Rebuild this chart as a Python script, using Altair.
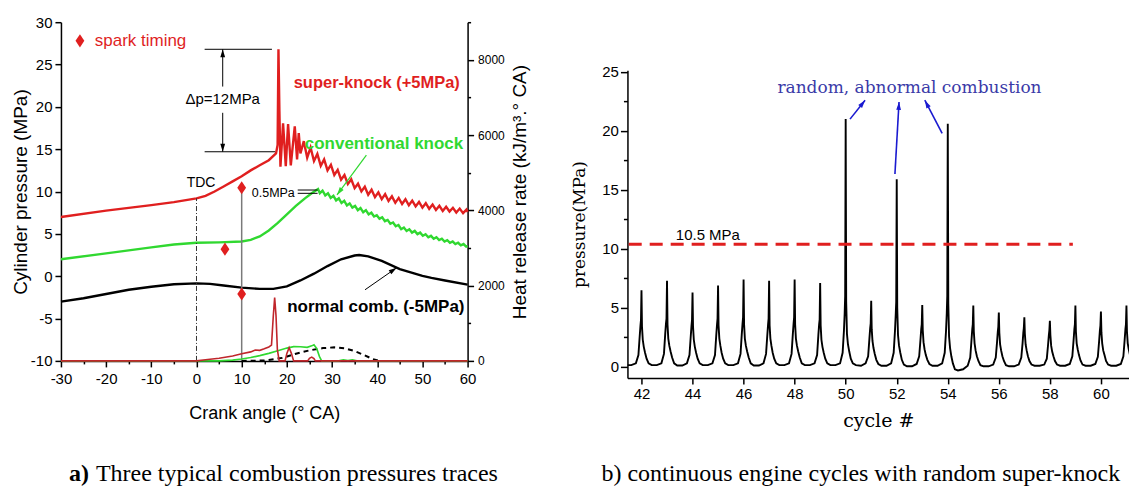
import altair as alt
import pandas as pd

# ================= Panel (a): three typical combustion pressure traces =================
# super-knock cylinder pressure (+5 MPa offset)
sk_ca = [-30, -20, -10, -5, 0, 2, 4, 6, 8, 10, 12, 14, 16, 17.6, 17.95, 18.14, 18.35, 18.58,
         19.16, 19.76, 20.27, 20.87, 21.75, 22.26, 22.63,
         23.0, 23.75, 24.5, 25.25, 26.0, 26.75, 27.5, 28.25, 29.0, 29.75, 30.5, 31.25, 32.0,
         32.75, 33.5, 34.25, 35.0, 35.75, 36.5, 37.25, 38.0, 38.75, 39.5, 40.25, 41.0, 41.75,
         42.5, 43.25, 44.0, 44.75, 45.5, 46.25, 47.0, 47.75, 48.5, 49.25, 50.0, 50.75, 51.5,
         52.25, 53.0, 53.75, 54.5, 55.25, 56.0, 56.75, 57.5, 58.25, 59.0, 59.75, 60.0]
sk_p = [7.0, 7.75, 8.4, 8.75, 9.2, 9.5, 10.0, 10.6, 11.2, 11.8, 12.5, 13.1, 13.7, 14.5, 15.5, 26.8, 19.5, 12.93,
        18.05, 13.0, 17.96, 13.1, 17.7, 13.8, 16.9,
        14.5, 15.95, 14.0, 15.2, 13.6, 14.45, 13.05, 13.8, 12.5, 13.15, 11.95, 12.55, 11.4,
        11.95, 10.9, 11.45, 10.4, 10.93, 10.02, 10.57, 9.63, 10.21, 9.34, 9.9, 9.1, 9.69,
        8.88, 9.43, 8.67, 9.25, 8.53, 9.09, 8.38, 8.93, 8.24, 8.77, 8.1, 8.62, 7.96,
        8.46, 7.82, 8.31, 7.7, 8.21, 7.64, 8.08, 7.53, 7.99, 7.45, 7.87, 7.6]

# conventional knock cylinder pressure
ck_ca = [-30, -20, -10, -5, 0, 5, 10, 12, 14, 16, 18, 20, 22, 24, 25.5, 26.9,
         27.3, 27.9, 28.5, 29.1, 29.7, 30.3, 30.9, 31.5, 32.1, 32.7,
         33.3, 33.9, 34.5, 35.1, 35.7, 36.3, 36.9, 37.5, 38.1, 38.7,
         39.3, 39.9, 40.5, 41.1, 41.7, 42.3, 42.9, 43.5, 44.1, 44.7,
         45.3, 45.9, 46.5, 47.1, 47.7, 48.3, 48.9, 49.5, 50.1, 50.7,
         51.3, 51.9, 52.5, 53.1, 53.7, 54.3, 54.9, 55.5, 56.1, 56.7,
         57.3, 57.9, 58.5, 59.1, 59.7, 60.0]
ck_p = [2.0, 2.7, 3.4, 3.75, 3.95, 4.0, 4.1, 4.3, 4.7, 5.4, 6.3, 7.3, 8.3, 9.2, 9.8, 10.3,
        9.8, 10.1, 9.55, 9.8, 9.25, 9.5, 8.95, 9.2, 8.65, 8.9,
        8.35, 8.6, 8.1, 8.3, 7.8, 8.05, 7.55, 7.8, 7.3, 7.5,
        7.05, 7.2, 6.8, 6.95, 6.5, 6.65, 6.2, 6.35, 5.9, 6.05,
        5.55, 5.75, 5.35, 5.55, 5.15, 5.35, 4.97, 5.15, 4.78, 4.95,
        4.6, 4.77, 4.43, 4.6, 4.27, 4.43, 4.1, 4.26, 3.95, 4.1,
        3.8, 3.95, 3.65, 3.8, 3.5, 3.55]

# normal combustion cylinder pressure (-5 MPa offset)
nc_ca = [-30, -25, -20, -15, -10, -5, 0, 3, 6, 10, 14, 17, 20, 23, 26, 29, 32, 35, 36, 38, 41, 45, 50, 52, 55, 60]
nc_p = [-3.0, -2.6, -2.1, -1.6, -1.25, -0.95, -0.85, -0.9, -1.1, -1.35, -1.5, -1.5, -1.2, -0.5, 0.3,
        1.2, 2.0, 2.45, 2.5, 2.35, 1.8, 0.85, 0.05, -0.2, -0.5, -1.0]

# heat release rates (right axis)
hr_sk_ca = [-30, 0, 2, 5, 8, 10, 12, 13, 14, 15, 16, 16.6, 17.0, 17.3, 17.6, 17.9, 18.3, 19.6,
            20.0, 20.5, 21.0, 21.5, 24.6, 25.0, 25.5, 26.0, 26.3, 60]
hr_sk = [0, 0, 30, 70, 130, 190, 240, 290, 280, 320, 370, 420, 1200, 1680, 1200, 300, 0, 0,
         200, 350, 200, 0, 0, 70, 100, 60, 0, 0]
hr_ck_ca = [-30, 5, 8, 10, 12, 14, 16, 18, 20, 21.5, 23, 24.5, 25.5, 26.0, 26.6, 27.2, 27.7,
            31.5, 32.5, 33.5, 34.5, 35.5, 36.5, 60]
hr_ck = [0, 0, 20, 50, 90, 140, 200, 270, 340, 380, 375, 360, 400, 430, 330, 120, 0,
         0, 30, 10, 30, 0, 0, 0]
hr_nc_ca = [10, 15, 19, 22, 25, 28, 30.5, 33, 35, 37, 39, 40.5, 60]
hr_nc = [0, 10, 80, 190, 280, 340, 360, 330, 260, 160, 50, 0, 0]

# spark timing markers (last one is the legend symbol)
spark_ca = [10, 6.3, 10, -25.8]
spark_p = [10.45, 3.2, -2.1, 27.8]

# text annotations
note_text = ["spark timing", "TDC", "Δp=12MPa", "0.5MPa",
             "super-knock (+5MPa)", "conventional knock", "normal comb. (-5MPa)"]
note_ca = [-22.5, 1.0, 5.8, 17.0, 39.9, 41.5, 39.7]
note_p = [27.8, 11.0, 20.9, 9.8, 22.8, 15.6, -3.6]

# thin black guide segments: delta-p bars, delta-p arrow shaft, 0.5 MPa marks, normal-comb arrow
seg_ca = [1.8, 1.8, 5.8, 5.8, 22.4, 22.4, 37.3]
seg_ca2 = [16.7, 17.4, 5.8, 5.8, 26.8, 26.8, 44.3]
seg_p = [26.8, 14.7, 26.8, 19.3, 10.18, 9.79, -1.6]
seg_p2 = [26.8, 14.7, 22.4, 14.7, 10.18, 9.79, 1.0]
# green arrow for "conventional knock"
garr_ca, garr_ca2, garr_p, garr_p2 = [37.6], [31.1], [14.3], [9.6]
# TDC line and spark-timing line
tdc_ca, tdc_p, tdc_p2 = [0], [-10], [9.2]
st_ca, st_p, st_p2 = [10], [-10], [10.45]
# arrow heads
head_ca = [5.8, 5.8, 31.1, 44.3]
head_p = [26.8, 14.7, 9.6, 1.0]
head_ang = [0, 180, 216, 56]
head_kind = ["k", "k", "g", "k"]

caption_a_bold = "a)"
caption_a = "Three typical combustion pressures traces"

# ================= Panel (b): continuous engine cycles =================
cycles = list(range(42, 62))
shape_offsets = [-0.4, -0.22, -0.12, -0.07, -0.04, -0.02, 0.0, 0.02, 0.05, 0.09, 0.14, 0.2, 0.28, 0.4]
cycle_pressures = [
    [0.15, 0.3, 1.0, 2.6, 3.5, 4.0, 6.5, 3.4, 2.3, 1.7, 1.2, 0.7, 0.3, 0.15],    # 42
    [0.15, 0.3, 1.1, 2.8, 3.7, 4.1, 7.3, 3.6, 2.4, 1.8, 1.3, 0.8, 0.3, 0.12],    # 43
    [0.12, 0.3, 1.0, 2.6, 3.5, 4.0, 6.3, 3.4, 2.3, 1.7, 1.2, 0.7, 0.3, 0.15],    # 44
    [0.15, 0.3, 1.0, 2.7, 3.6, 4.1, 6.9, 3.5, 2.4, 1.8, 1.2, 0.7, 0.3, 0.15],    # 45
    [0.15, 0.3, 1.1, 2.8, 3.7, 4.2, 7.4, 3.6, 2.4, 1.8, 1.3, 0.8, 0.3, 0.12],    # 46
    [0.12, 0.3, 1.1, 2.7, 3.6, 4.1, 7.3, 3.5, 2.4, 1.8, 1.2, 0.7, 0.3, 0.15],    # 47
    [0.15, 0.3, 1.1, 2.8, 3.7, 4.2, 7.4, 3.6, 2.4, 1.8, 1.3, 0.8, 0.3, 0.15],    # 48
    [0.15, 0.3, 1.0, 2.7, 3.6, 4.0, 7.1, 3.5, 2.3, 1.7, 1.2, 0.7, 0.3, 0.15],    # 49
    [0.15, 0.3, 1.2, 3.0, 4.5, 6.0, 21.0, 5.5, 2.8, 1.9, 1.3, 0.7, 0.3, 0.15],   # 50
    [0.1, 0.3, 0.9, 2.4, 3.3, 3.7, 5.6, 3.2, 2.2, 1.6, 1.1, 0.6, 0.25, 0.1],     # 51
    [0.1, 0.3, 1.2, 3.0, 4.4, 5.5, 15.9, 5.0, 2.7, 1.8, 1.2, 0.6, 0.2, 0.05],    # 52
    [0.05, 0.25, 0.9, 2.3, 3.2, 3.6, 5.25, 3.1, 2.1, 1.5, 1.0, 0.6, 0.25, 0.1],  # 53
    [0.1, 0.3, 1.2, 3.0, 4.5, 6.0, 20.6, 5.4, 2.6, 1.6, 0.9, 0.3, -0.2, -0.3],   # 54
    [-0.2, 0.1, 0.8, 2.3, 3.2, 3.6, 5.2, 3.0, 2.0, 1.4, 0.9, 0.5, 0.15, 0.05],   # 55
    [0.05, 0.2, 0.8, 2.1, 3.0, 3.4, 4.6, 2.9, 1.9, 1.4, 0.9, 0.5, 0.15, 0.05],   # 56
    [0.05, 0.2, 0.8, 2.0, 2.9, 3.3, 4.2, 2.8, 1.9, 1.4, 0.9, 0.5, 0.2, 0.1],     # 57
    [0.1, 0.2, 0.7, 1.9, 2.7, 3.1, 3.9, 2.7, 1.8, 1.3, 0.9, 0.5, 0.2, 0.1],      # 58
    [0.1, 0.25, 0.9, 2.3, 3.2, 3.6, 5.2, 3.0, 2.0, 1.5, 1.0, 0.55, 0.2, 0.1],    # 59
    [0.1, 0.25, 0.85, 2.2, 3.1, 3.5, 4.7, 2.9, 2.0, 1.4, 1.0, 0.5, 0.2, 0.1],    # 60
    [0.1, 0.25, 0.9, 2.3, 3.2, 3.6, 5.2, 3.0, 2.0, 1.5, 1.0, 0.55, 0.2, 0.1],    # 61
]
lead_cycle, lead_p = 41.45, 0.15

thr_x, thr_x2, thr_p = [41.5], [58.9], [10.4]
thr_label, thr_label_x, thr_label_p = "10.5 MPa", 44.6, 11.2
abn_label, abn_x, abn_p = "random,  abnormal combustion", 52.5, 23.6
barr_x = [50.17, 51.93, 53.78]
barr_p = [21.0, 16.35, 19.8]
barr_x2 = [50.76, 52.09, 53.1]
barr_p2 = [22.6, 22.45, 22.6]
barr_ang = [38, 3, 332]

caption_b = "b) continuous engine cycles with random super-knock"

# ================= styling =================
RED = "#e01f1f"
RED_DARK = "#c0262b"
GREEN = "#30d830"
BLUE_T = "#3a3aa8"
BLUE_A = "#1a1ad0"
SANS = "Liberation Sans"
SERIF = "Liberation Serif"
SERIF2 = "DejaVu Serif"
HEAD = "M0,0L-0.6,2L0.6,2Z"
DIAMOND = "M0,-1.2L0.8,0L0,1.2L-0.8,0Z"
HYPHEN = "replace(datum.label, '\u2212', '-')"


def cond(test, a, b):
    return {"condition": {"test": test, "value": a}, "value": b}


X_L = alt.Scale(domain=[-30, 60], nice=False, zero=False)
Y_P = alt.Scale(domain=[-10, 30], nice=False, zero=False)
Y_H = alt.Scale(domain=[0, 9000], nice=False, zero=False)

ax_x_left = alt.Axis(title="Crank angle (°  CA)", values=list(range(-30, 61, 5)),
                     labelExpr="datum.value % 10 === 0 ? " + HYPHEN + " : ''",
                     tickSize=cond("datum.value % 10 === 0", 6, 3), labelFlush=False,
                     labelFontSize=15, labelPadding=5, titleFontSize=18, titlePadding=18)
ax_y_left = alt.Axis(title="Cylinder pressure (MPa)", values=list(range(-10, 31, 5)),
                     labelExpr=HYPHEN, tickSize=6, labelFontSize=15, labelPadding=3,
                     titleFontSize=19, titlePadding=0)
ax_y_right = alt.Axis(title="Heat release rate (kJ/m³.° CA)", orient="right",
                      values=list(range(0, 9001, 1000)), format="d",
                      labelExpr="datum.value % 2000 === 0 ? datum.label : ''",
                      tickSize=cond("datum.value % 2000 === 0", 6, 3),
                      labelFontSize=12, labelPadding=4, titleFontSize=19,
                      titleAngle=270, titleBaseline="top", titlePadding=6)


def XL(f="x"):
    return alt.X(f + ":Q", scale=X_L, axis=ax_x_left)


def YP(f="y"):
    return alt.Y(f + ":Q", scale=Y_P, axis=ax_y_left)


def YH(f="y"):
    return alt.Y(f + ":Q", scale=Y_H, axis=ax_y_right)


df_sk = pd.DataFrame({"x": sk_ca, "y": sk_p})
df_ck = pd.DataFrame({"x": ck_ca, "y": ck_p})
df_nc = pd.DataFrame({"x": nc_ca, "y": nc_p})

l_sk = alt.Chart(df_sk).mark_line(color=RED, strokeWidth=2.4).encode(x=XL(), y=YP())
l_ck = alt.Chart(df_ck).mark_line(color=GREEN, strokeWidth=2.4).encode(x=XL(), y=YP())
l_nc = alt.Chart(df_nc).mark_line(color="black", strokeWidth=2.4).encode(x=XL(), y=YP())

r_tdc = alt.Chart(pd.DataFrame({"x": tdc_ca, "y": tdc_p, "y2": tdc_p2})).mark_rule(
    color="#333333", strokeWidth=1, strokeDash=[5, 2, 1, 2]).encode(x=XL(), y=YP(), y2="y2:Q")
r_st = alt.Chart(pd.DataFrame({"x": st_ca, "y": st_p, "y2": st_p2})).mark_rule(
    color="#7a7a7a", strokeWidth=1.5).encode(x=XL(), y=YP(), y2="y2:Q")
r_seg = alt.Chart(pd.DataFrame({"x": seg_ca, "x2": seg_ca2, "y": seg_p, "y2": seg_p2})).mark_rule(
    color="black", strokeWidth=1).encode(x=XL(), x2="x2:Q", y=YP(), y2="y2:Q")
r_garr = alt.Chart(pd.DataFrame({"x": garr_ca, "x2": garr_ca2, "y": garr_p, "y2": garr_p2})).mark_rule(
    color=GREEN, strokeWidth=1.2).encode(x=XL(), x2="x2:Q", y=YP(), y2="y2:Q")

df_head = pd.DataFrame({"x": head_ca, "y": head_p, "a": head_ang,
                        "c": [GREEN if k == "g" else "black" for k in head_kind]})
p_head = alt.Chart(df_head).mark_point(shape=HEAD, filled=True, opacity=1, size=64, strokeWidth=0).encode(
    x=XL(), y=YP(), angle=alt.Angle("a:Q", scale=None), color=alt.Color("c:N", scale=None))

p_spark = alt.Chart(pd.DataFrame({"x": spark_ca, "y": spark_p})).mark_point(
    shape=DIAMOND, filled=True, opacity=1, size=121, color=RED, strokeWidth=0).encode(x=XL(), y=YP())

df_note = pd.DataFrame({"x": note_ca, "y": note_p, "t": note_text})


def note(i, **kw):
    return alt.Chart(df_note.iloc[[i]]).mark_text(baseline="middle", **kw).encode(
        x=XL(), y=YP(), text="t:N")


t_spark = note(0, align="left", font=SANS, fontSize=17, color=RED)
t_tdc = note(1, align="center", font=SANS, fontSize=14, color="black")
t_dp = note(2, align="center", font=SANS, fontSize=15, color="black")
t_05 = note(3, align="center", font=SANS, fontSize=12.5, color="black")
t_sk = note(4, align="center", font=SANS, fontSize=16.5, fontWeight="bold", color=RED)
t_ck = note(5, align="center", font=SANS, fontSize=17, fontWeight="bold", color=GREEN)
t_nc = note(6, align="center", font=SANS, fontSize=17, fontWeight="bold", color="black")

cap_a1 = alt.Chart(pd.DataFrame({"t": [caption_a_bold]})).mark_text(
    align="left", baseline="alphabetic", font=SERIF, fontSize=24, fontWeight="bold", color="black").encode(
    text="t:N", x=alt.value(8), y=alt.value(459))
cap_a2 = alt.Chart(pd.DataFrame({"t": [caption_a]})).mark_text(
    align="left", baseline="alphabetic", font=SERIF, fontSize=24, color="black").encode(
    text="t:N", x=alt.value(35), y=alt.value(459))

h_sk = alt.Chart(pd.DataFrame({"x": hr_sk_ca, "y": hr_sk})).mark_line(
    color=RED_DARK, strokeWidth=1.6).encode(x=XL(), y=YH())
h_ck = alt.Chart(pd.DataFrame({"x": hr_ck_ca, "y": hr_ck})).mark_line(
    color=GREEN, strokeWidth=1.6).encode(x=XL(), y=YH())
h_nc = alt.Chart(pd.DataFrame({"x": hr_nc_ca, "y": hr_nc})).mark_line(
    color="black", strokeWidth=2, strokeDash=[5, 4]).encode(x=XL(), y=YH())

press = alt.layer(l_nc, l_ck, l_sk, r_tdc, r_st, r_seg, r_garr, p_head, p_spark,
                  t_spark, t_tdc, t_dp, t_05, t_sk, t_ck, t_nc, cap_a1, cap_a2)
hrr = alt.layer(h_nc, h_ck, h_sk)
left = alt.layer(press, hrr).resolve_scale(y="independent").properties(width=407, height=339)

# ---------- panel b ----------
X_R = alt.Scale(domain=[41.45, 61.1], nice=False, zero=False)
Y_R = alt.Scale(domain=[-0.93, 25.15], nice=False, zero=False)

ax_x_r = alt.Axis(title="cycle #", values=list(range(42, 61, 2)), tickSize=6,
                  labelFontSize=15, labelPadding=3, titleFont=SERIF2, titleFontSize=19, titlePadding=10)
ax_y_r = alt.Axis(title="pressure(MPa)", values=[0, 2.5, 5, 7.5, 10, 12.5, 15, 17.5, 20, 22.5, 25],
                  labelExpr="datum.value % 5 === 0 ? datum.label : ''",
                  tickSize=cond("datum.value % 5 === 0", 7, 4),
                  labelFontSize=15, labelPadding=2, titleFont=SERIF2, titleFontSize=17, titlePadding=13)


def XR(f="x"):
    return alt.X(f + ":Q", scale=X_R, axis=ax_x_r)


def YR(f="y"):
    return alt.Y(f + ":Q", scale=Y_R, axis=ax_y_r)


trace_x = [lead_cycle] + [c + o for c, vals in zip(cycles, cycle_pressures) for o in shape_offsets]
trace_p = [lead_p] + [v for vals in cycle_pressures for v in vals]
df_trace = pd.DataFrame({"x": trace_x, "y": trace_p})

l_trace = alt.Chart(df_trace).mark_line(color="black", strokeWidth=1.9, clip=True).encode(
    x=XR(), y=YR())
r_thr = alt.Chart(pd.DataFrame({"x": thr_x, "x2": thr_x2, "y": thr_p})).mark_rule(
    color=RED, strokeWidth=3, strokeDash=[13, 8]).encode(x=XR(), x2="x2:Q", y=YR())
t_thr = alt.Chart(pd.DataFrame({"x": [thr_label_x], "y": [thr_label_p], "t": [thr_label]})).mark_text(
    font=SANS, fontSize=15, color="black", align="center", baseline="middle").encode(x=XR(), y=YR(), text="t:N")
t_abn = alt.Chart(pd.DataFrame({"x": [abn_x], "y": [abn_p], "t": [abn_label]})).mark_text(
    font=SERIF2, fontSize=17, color=BLUE_T, align="center", baseline="middle").encode(x=XR(), y=YR(), text="t:N")
df_barr = pd.DataFrame({"x": barr_x, "x2": barr_x2, "y": barr_p, "y2": barr_p2, "a": barr_ang})
r_barr = alt.Chart(df_barr).mark_rule(color=BLUE_A, strokeWidth=1.6).encode(
    x=XR(), x2="x2:Q", y=YR(), y2="y2:Q")
p_barr = alt.Chart(df_barr).mark_point(shape=HEAD, filled=True, opacity=1, size=64, strokeWidth=0,
                                       color=BLUE_A).encode(
    x=XR("x2"), y=YR("y2"), angle=alt.Angle("a:Q", scale=None))
cap_b = alt.Chart(pd.DataFrame({"t": [caption_b]})).mark_text(
    align="left", baseline="alphabetic", font=SERIF, fontSize=24, color="black").encode(
    text="t:N", x=alt.value(-26), y=alt.value(411))

right = alt.layer(l_trace, r_thr, t_thr, t_abn, r_barr, p_barr, cap_b).properties(width=502, height=308)

# empty band that lowers panel (b) below the top of panel (a)
spacer = alt.Chart(pd.DataFrame({"v": [0]})).mark_point(opacity=0).encode(
    x=alt.value(0), y=alt.value(0)).properties(width=10, height=42)
right_col = alt.vconcat(spacer, right, spacing=0)

chart = alt.hconcat(left, right_col, spacing=41).properties(
    padding={"left": 3, "top": 7, "right": 0, "bottom": 0}
).configure_view(stroke=None).configure_axis(
    grid=False, domainColor="black", tickColor="black", labelColor="black", titleColor="black",
    domainWidth=1.5, tickWidth=1.5, labelFont=SANS, titleFont=SANS, titleFontWeight="normal")

chart.save("out.html", embed_options={"renderer": "svg", "actions": False})
